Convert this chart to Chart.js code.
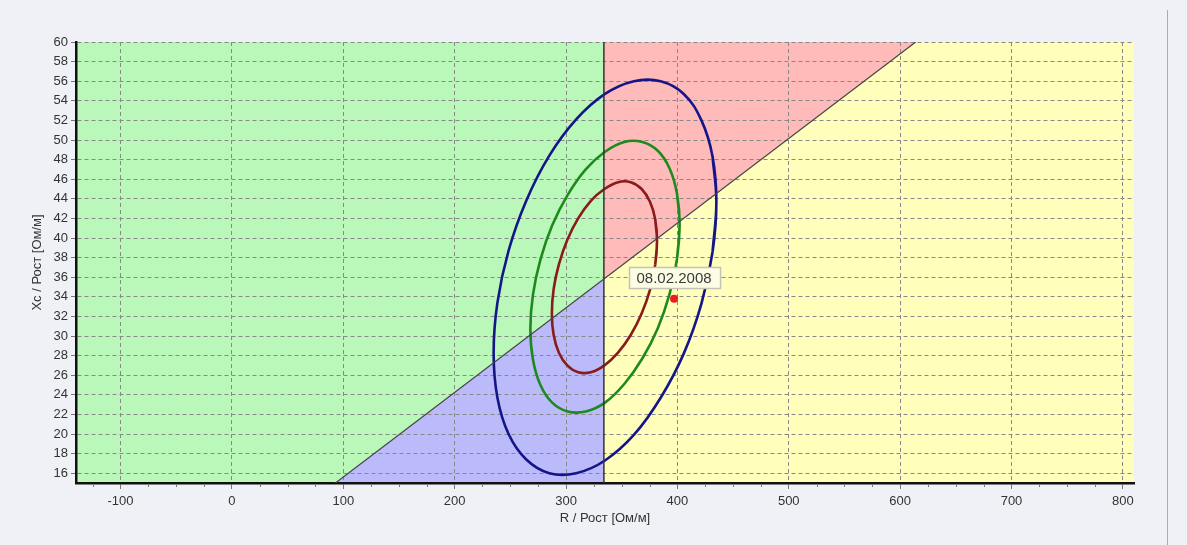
<!DOCTYPE html>
<html lang="ru">
<head>
<meta charset="UTF-8" />
<title>R / Xc</title>
<script src="https://cdn.jsdelivr.net/npm/chart.js"></script>
<style>
  body { margin: 0; background: #eff1f6; }
  #wrap { position: relative; width: 1187px; height: 545px; }
  #sep { position: absolute; left: 1167px; top: 10px; width: 1px; height: 535px; background: #a9abb0; }
</style>
</head>
<body>
<div id="wrap">
  <canvas id="chart" width="1187" height="545"></canvas>
  <div id="sep"></div>
</div>
<script>
// axis ranges
const xMin = -140, xMax = 810;
const yMin = 15, yMax = 60;

// zone borders
const dividerR = 334;
const diagonal = [{x: 93, y: 15}, {x: 614, y: 60}];

// tolerance ellipses, points (95%, 75%, 50%)
const ellipse95 = [[435,43.7],[431.6,48.3],[421.6,52.0],[405.7,54.7],[385,56.0],[360.9,56.0],[335,54.7],[309.1,52.1],[285,48.4],[264.3,43.8],[248.4,38.7],[238.4,33.4],[235,28.3],[238.4,23.7],[248.4,20.0],[264.3,17.4],[285,16.0],[309.1,16.0],[335,17.3],[360.9,19.9],[385,23.7],[405.7,28.2],[421.6,33.3],[431.6,38.6],[435,43.7]];
const ellipse75 = [[402,41.4],[399.7,44.5],[393,47.1],[382.4,48.9],[368.5,49.8],[352.3,49.8],[335,48.8],[317.7,47.0],[301.5,44.4],[287.6,41.3],[277,37.8],[270.3,34.2],[268,30.8],[270.3,27.6],[277,25.0],[287.6,23.2],[301.5,22.3],[317.7,22.3],[335,23.2],[352.3,25.1],[368.5,27.7],[382.4,30.8],[393,34.3],[399.7,37.9],[402,41.4]];
const ellipse50 = [[381.7,39.7],[380.1,41.9],[375.4,43.7],[367.9,45.0],[358.1,45.7],[346.7,45.7],[334.5,45.0],[322.3,43.8],[310.9,42.0],[301.1,39.8],[293.6,37.3],[288.9,34.8],[287.3,32.3],[288.9,30.1],[293.6,28.3],[301.1,27.0],[310.9,26.3],[322.3,26.3],[334.5,27.0],[346.7,28.3],[358.1,30.1],[367.9,32.3],[375.4,34.7],[380.1,37.3],[381.7,39.7]];

const measurement = {x: 397, y: 33.8, label: '08.02.2008'};

// closed curve: repeat one neighbour on each end so the join stays smooth
const loop = arr => [arr[arr.length - 2], ...arr, arr[1]].map(p => ({x: p[0], y: p[1]}));

// y of the diagonal where it crosses the divider
const crossY = diagonal[0].y + (dividerR - diagonal[0].x) * (diagonal[1].y - diagonal[0].y) / (diagonal[1].x - diagonal[0].x);

function zone(points, color) {
  return {data: points, showLine: true, fill: 'shape', backgroundColor: color,
          borderWidth: 0, pointRadius: 0, tension: 0};
}

function curve(points, color, width) {
  return {data: points, showLine: true, fill: false, borderColor: color,
          borderWidth: width, pointRadius: 0, tension: 0.4};
}

const zones = [
  zone([{x: xMin, y: yMin}, diagonal[0], {x: dividerR, y: crossY}, {x: dividerR, y: yMax}, {x: xMin, y: yMax}], '#b9f8b9'),
  zone([diagonal[0], {x: dividerR, y: yMin}, {x: dividerR, y: crossY}], '#bbbbfb'),
  zone([{x: dividerR, y: crossY}, diagonal[1], {x: dividerR, y: yMax}], '#ffbaba'),
  zone([{x: dividerR, y: yMin}, {x: xMax, y: yMin}, {x: xMax, y: yMax}, diagonal[1], {x: dividerR, y: crossY}], '#ffffbb')
];

const minorTicks = {
  id: 'minorTicks',
  afterDraw(chart) {
    const sx = chart.scales.x, ctx = chart.ctx;
    const y0 = chart.chartArea.bottom;
    ctx.save();
    ctx.strokeStyle = '#777';
    ctx.lineWidth = 1;
    for (let v = -125; v <= 800; v += 25) {
      if (v % 100 === 0) continue;
      const px = Math.round(sx.getPixelForValue(v)) + 0.5;
      ctx.beginPath();
      ctx.moveTo(px, y0 + 1);
      ctx.lineTo(px, y0 + 4);
      ctx.stroke();
    }
    ctx.restore();
  }
};

const dateLabel = {
  id: 'dateLabel',
  afterDatasetsDraw(chart) {
    const ctx = chart.ctx;
    const px = chart.scales.x.getPixelForValue(measurement.x);
    const py = chart.scales.y.getPixelForValue(measurement.y);
    ctx.save();
    ctx.font = '15px "Liberation Sans", Arial, sans-serif';
    const w = ctx.measureText(measurement.label).width + 16;
    const h = 21;
    const bx = Math.round(px - w / 2) + 0.5, by = Math.round(py - 32) + 0.5;
    ctx.fillStyle = '#fdfde6';
    ctx.strokeStyle = '#c4c4b4';
    ctx.lineWidth = 1.5;
    ctx.fillRect(bx, by, w, h);
    ctx.strokeRect(bx, by, w, h);
    ctx.fillStyle = '#3a3a3a';
    ctx.textAlign = 'center';
    ctx.textBaseline = 'middle';
    ctx.fillText(measurement.label, px, by + h / 2 + 1);
    ctx.restore();
  }
};

const tickFont = {family: '"Liberation Sans", Arial, sans-serif', size: 13};

new Chart(document.getElementById('chart'), {
  type: 'scatter',
  data: {
    datasets: [
      ...zones,
      {data: diagonal, showLine: true, borderColor: '#444', borderWidth: 1.2, pointRadius: 0},
      {data: [{x: dividerR, y: yMin}, {x: dividerR, y: yMax}], showLine: true, borderColor: '#333', borderWidth: 1.5, pointRadius: 0},
      curve(loop(ellipse95), '#15158a', 2.6),
      curve(loop(ellipse75), '#1e8a1e', 2.6),
      curve(loop(ellipse50), '#8a1b1b', 2.6),
      {data: [{x: measurement.x, y: measurement.y}], pointRadius: 4, pointBackgroundColor: '#ee1c1c', pointBorderWidth: 0}
    ]
  },
  options: {
    responsive: false,
    animation: false,
    layout: {padding: {left: 0, top: 42, right: 53, bottom: 0}},
    plugins: {
      legend: {display: false},
      tooltip: {enabled: false},
      filler: {drawTime: 'beforeDraw'}
    },
    scales: {
      x: {
        type: 'linear', min: xMin, max: xMax,
        afterFit: s => { s.height = 62; },
        ticks: {stepSize: 100, includeBounds: false, color: '#333', font: tickFont, padding: 5, maxRotation: 0},
        grid: {color: '#888', lineWidth: 1, tickLength: 6, tickColor: '#777'},
        border: {color: '#111', width: 2.5, dash: [4, 3]},
        title: {display: true, text: 'R / Рост [Ом/м]', color: '#333', font: {family: tickFont.family, size: 13}, padding: {top: 0, bottom: 19}}
      },
      y: {
        type: 'linear', min: yMin, max: yMax,
        afterFit: s => { s.width = 76; },
        ticks: {stepSize: 2, includeBounds: false, autoSkip: false, color: '#333', font: tickFont, padding: 3},
        grid: {color: '#888', lineWidth: 1, tickLength: 5, tickColor: '#777'},
        border: {color: '#111', width: 2.5, dash: [4, 3]},
        title: {display: true, text: 'Xc / Рост [Ом/м]', color: '#333', font: {family: tickFont.family, size: 13}, padding: {top: 30, bottom: 0}}
      }
    }
  },
  plugins: [minorTicks, dateLabel]
});
</script>
</body>
</html>
